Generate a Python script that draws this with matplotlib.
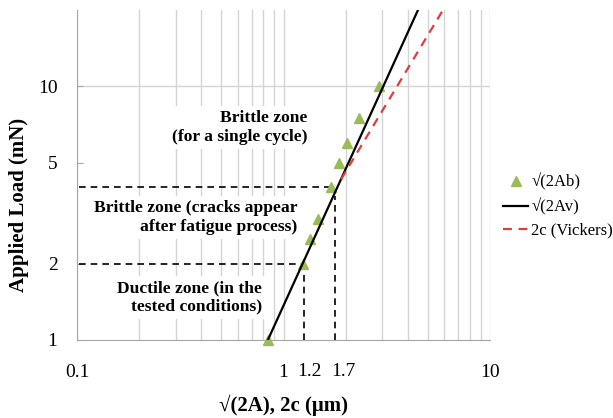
import matplotlib
matplotlib.use('Agg')
import matplotlib.pyplot as plt
from matplotlib.ticker import NullLocator, FixedLocator

plt.rcParams['font.family'] = ['Liberation Serif', 'DejaVu Serif']

# indentation measurements sqrt(2Ab)
ab_x = [0.84, 1.24, 1.34, 1.47, 1.70, 1.86, 2.03, 2.32, 2.90]
ab_y = [1, 2, 2.5, 3, 4, 5, 6, 7.5, 10]

# fitted lines
av_x = [0.84, 4.48]
av_y = [1, 20]
vick_x = [1.90, 5.92]
vick_y = [4.3, 20]

# zone limits
lim_x = [1.25, 1.77]
lim_y = [2, 4]
lim_top = [2, 3.7]

GRID = '#d4d4d4'
GREEN = '#9BBB59'
RED = '#D9403C'

fig = plt.figure(figsize=(6.13, 4.18), dpi=100)
ax = fig.add_axes([77 / 613, 1 - 340 / 418, 413 / 613, 330 / 418])
ax.set_xscale('log')
ax.set_yscale('log')
ax.set_xlim(0.1, 10)
ax.set_ylim(1, 20)

ax.grid(True, which='both', axis='x', color=GRID, lw=1, zorder=0)
ax.axhline(10, color=GRID, lw=1, zorder=0)

for s in ['top', 'right']:
    ax.spines[s].set_visible(False)
for s in ['left', 'bottom']:
    ax.spines[s].set_color('#a6a6a6')

ax.set_xticks([0.1, 1, 10])
ax.set_xticklabels(['0.1', '1', '10'])
ax.tick_params(axis='x', which='both', length=0, pad=17, labelsize=14)
ax.yaxis.set_major_locator(FixedLocator([1, 2, 5, 10]))
ax.yaxis.set_minor_locator(NullLocator())
ax.set_yticklabels(['1', '2', '5', '10'])
ax.tick_params(axis='y', direction='in', length=4, color='#a6a6a6', pad=14, labelsize=14)

# extra labels for the zone limits
trans = ax.get_xaxis_transform()
ax.text(1.33, -0.071, '1.2', transform=trans, ha='center', va='top', fontsize=14)
ax.text(1.96, -0.071, '1.7', transform=trans, ha='center', va='top', fontsize=14)

ax.set_xlabel('√(2A), 2c (μm)', fontsize=15, fontweight='bold')
ax.xaxis.set_label_coords(0.5, -0.165)
ax.set_ylabel('Applied Load (mN)', fontsize=15, fontweight='bold')
ax.yaxis.set_label_coords(-0.116, 0.41)

# zone boundaries
dash = dict(color='black', lw=1.2, dashes=(4, 3), zorder=3)
ax.plot([0.102, lim_x[0]], [lim_y[0], lim_y[0]], **dash)
ax.plot([lim_x[0], lim_x[0]], [1, lim_top[0]], **dash)
ax.plot([0.102, ab_x[4]], [lim_y[1], lim_y[1]], **dash)
ax.plot([lim_x[1], lim_x[1]], [1, lim_top[1]], **dash)

ax.plot(ab_x, ab_y, linestyle='none', marker='^', ms=7, color=GREEN,
        clip_on=False, zorder=4, label='√(2Ab)')
ax.plot(av_x, av_y, color='black', lw=1.6, zorder=5, label='√(2Av)')
ax.plot(vick_x, vick_y, color=RED, lw=1.6, dashes=(4, 3), zorder=5, label='2c (Vickers)')

box = dict(boxstyle='square,pad=0.25', facecolor='white', edgecolor='none')
ax.text(0.557, 0.644, 'Brittle zone\n(for a single cycle)', transform=ax.transAxes,
        ha='right', va='center', fontsize=12.6, fontweight='bold', bbox=box, zorder=2)
ax.text(0.533, 0.371, 'Brittle zone (cracks appear\nafter fatigue process)', transform=ax.transAxes,
        ha='right', va='center', fontsize=12.6, fontweight='bold', bbox=box, zorder=2)
ax.text(0.448, 0.129, 'Ductile zone (in the\ntested conditions)', transform=ax.transAxes,
        ha='right', va='center', fontsize=12.6, fontweight='bold', bbox=box, zorder=2)

fig.legend(loc='center left', bbox_to_anchor=(503 / 613, 1 - 206 / 418), frameon=False,
           fontsize=12, handlelength=1.5, handletextpad=0.2, labelspacing=0.45,
           borderpad=0, borderaxespad=0)

fig.savefig('out.png', dpi=100)
